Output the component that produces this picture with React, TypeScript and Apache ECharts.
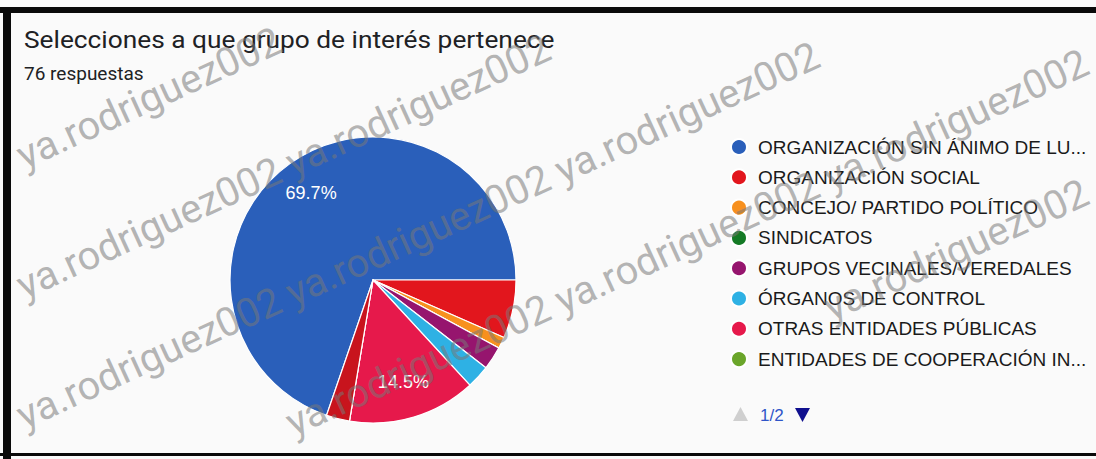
import React, { useEffect, useRef } from "react";
import * as echarts from "echarts";

const titleText = "Selecciones a que grupo de interés pertenece";
const subtitleText = "76 respuestas";

const categories = [
  "ORGANIZACIÓN SIN ÁNIMO DE LUCRO",
  "ORGANIZACIÓN SOCIAL",
  "CONCEJO/ PARTIDO POLÍTICO",
  "SINDICATOS",
  "GRUPOS VECINALES/VEREDALES",
  "ÓRGANOS DE CONTROL",
  "OTRAS ENTIDADES PÚBLICAS",
  "ENTIDADES DE COOPERACIÓN INTERNACIONAL",
  "OTRO",
];

const legendLabels = [
  "ORGANIZACIÓN SIN ÁNIMO DE LU...",
  "ORGANIZACIÓN SOCIAL",
  "CONCEJO/ PARTIDO POLÍTICO",
  "SINDICATOS",
  "GRUPOS VECINALES/VEREDALES",
  "ÓRGANOS DE CONTROL",
  "OTRAS ENTIDADES PÚBLICAS",
  "ENTIDADES DE COOPERACIÓN IN...",
  "OTRO",
];

const values = [53, 5, 1, 0, 2, 2, 11, 0, 2];

const colors = [
  "#2a5fba",
  "#e2161d",
  "#f7901e",
  "#147a25",
  "#96156e",
  "#2eb1e4",
  "#e6194b",
  "#6aa52a",
  "#c8141d",
];

const legendPageSize = 8;
const pageLabel = "1/2";
const watermarkPhrase = "ya.rodriguez002";

export default function App() {
  const ref = useRef<HTMLDivElement>(null);

  useEffect(() => {
    if (!ref.current) return;
    const chart = echarts.init(ref.current, undefined, { renderer: "svg" });

    const total = values.reduce((a, b) => a + b, 0);
    const startAngle = (360 * values[0]) / total;
    const pieData = categories.map((name, i) => ({
      name,
      value: values[i],
      itemStyle: { color: colors[i] },
    }));

    // watermark: whole phrases only, placed along slanted rows
    const W = 1096;
    const H = 459;
    const wmFont = "40px Roboto";
    const ctx = document.createElement("canvas").getContext("2d")!;
    ctx.font = wmFont;
    const phraseW = ctx.measureText(watermarkPhrase).width;
    const period = ctx.measureText(watermarkPhrase + " ").width;
    const ang = (24.5 * Math.PI) / 180;
    const c = Math.cos(ang);
    const s = Math.sin(ang);
    const asc = 30;
    const watermarks: any[] = [];
    for (let k = 0; k < 9; k++) {
      const y0 = 58 + 130 * k;
      for (let j = -1; j < 8; j++) {
        const d = 30 + j * period;
        const x = d * c;
        const y = y0 - d * s;
        const pts = [
          [x, y],
          [x + phraseW * c, y - phraseW * s],
          [x - asc * s, y - asc * c],
          [x + phraseW * c - asc * s, y - phraseW * s - asc * c],
          [x + 9 * s, y + 9 * c],
        ];
        const inside = pts.every(
          ([px, py]) => px >= 1 && px <= W - 1 && py >= 1 && py <= H - 1
        );
        if (!inside) continue;
        watermarks.push({
          type: "text",
          x,
          y,
          rotation: ang,
          silent: true,
          z: 100,
          style: {
            text: watermarkPhrase,
            fill: "rgba(120,120,120,0.55)",
            font: wmFont,
            verticalAlign: "bottom",
          },
        });
      }
    }

    const option: any = {
      animation: false,
      backgroundColor: "#fafafa",
      legend: {
        orient: "vertical",
        left: 730,
        top: 137,
        padding: 0,
        itemWidth: 16,
        itemHeight: 16,
        itemGap: 10.3,
        icon: "circle",
        data: categories.slice(0, legendPageSize),
        formatter: (name: string) => legendLabels[categories.indexOf(name)],
        textStyle: {
          fontFamily: "Liberation Sans, Arial",
          fontSize: 19,
          lineHeight: 20,
          color: "#1a1a1a",
          padding: [0, 0, 0, 6],
        },
        selectedMode: false,
      },
      series: [
        {
          type: "pie",
          center: [373, 280],
          radius: [0, 143],
          startAngle,
          clockwise: true,
          label: { show: false },
          labelLine: { show: false },
          itemStyle: { borderColor: "#ffffff", borderWidth: 1.2 },
          emphasis: { disabled: true },
          data: pieData,
        },
        {
          type: "pie",
          center: [373, 280],
          radius: [64, 143],
          startAngle,
          clockwise: true,
          silent: true,
          avoidLabelOverlap: false,
          itemStyle: { color: "rgba(0,0,0,0)", borderWidth: 0 },
          label: {
            show: true,
            position: "inside",
            color: "#ffffff",
            fontFamily: "Liberation Sans, Arial",
            fontSize: 18,
            formatter: (p: any) =>
              p.percent >= 10 ? `${p.percent.toFixed(1)}%` : "",
          },
          labelLine: { show: false },
          emphasis: { disabled: true },
          data: categories.map((name, i) => ({
            name,
            value: values[i],
            itemStyle: { color: "rgba(0,0,0,0)" },
          })),
        },
      ],
      graphic: [
        { type: "rect", shape: { x: 0, y: 7, width: 1096, height: 6 }, style: { fill: "#0a0a0a" } },
        { type: "rect", shape: { x: 3, y: 7, width: 8, height: 452 }, style: { fill: "#0a0a0a" } },
        { type: "rect", shape: { x: 0, y: 453, width: 1096, height: 3 }, style: { fill: "#0a0a0a" } },
        {
          type: "text",
          x: 24,
          y: 40,
          scaleX: 1.095,
          style: {
            text: titleText,
            fill: "#202124",
            font: "24px Roboto",
            verticalAlign: "middle",
          },
        },
        {
          type: "text",
          x: 24,
          y: 73,
          style: {
            text: subtitleText,
            fill: "#202124",
            font: "19px Roboto",
            verticalAlign: "middle",
          },
        },
        {
          type: "polygon",
          shape: { points: [[733, 421], [748, 421], [740.5, 407]] },
          style: { fill: "#cfcfcf" },
        },
        {
          type: "text",
          x: 760,
          y: 415,
          style: {
            text: pageLabel,
            fill: "#2f55c8",
            font: "17px Liberation Sans, Arial",
            verticalAlign: "middle",
          },
        },
        {
          type: "polygon",
          shape: { points: [[795, 408], [810, 408], [802.5, 422]] },
          style: { fill: "#10108f" },
        },
        ...watermarks,
      ],
    };

    chart.setOption(option);
    return () => chart.dispose();
  }, []);

  return (
    <div
      ref={ref}
      style={{ position: "fixed", left: 0, top: 0, width: 1096, height: 459 }}
    />
  );
}
